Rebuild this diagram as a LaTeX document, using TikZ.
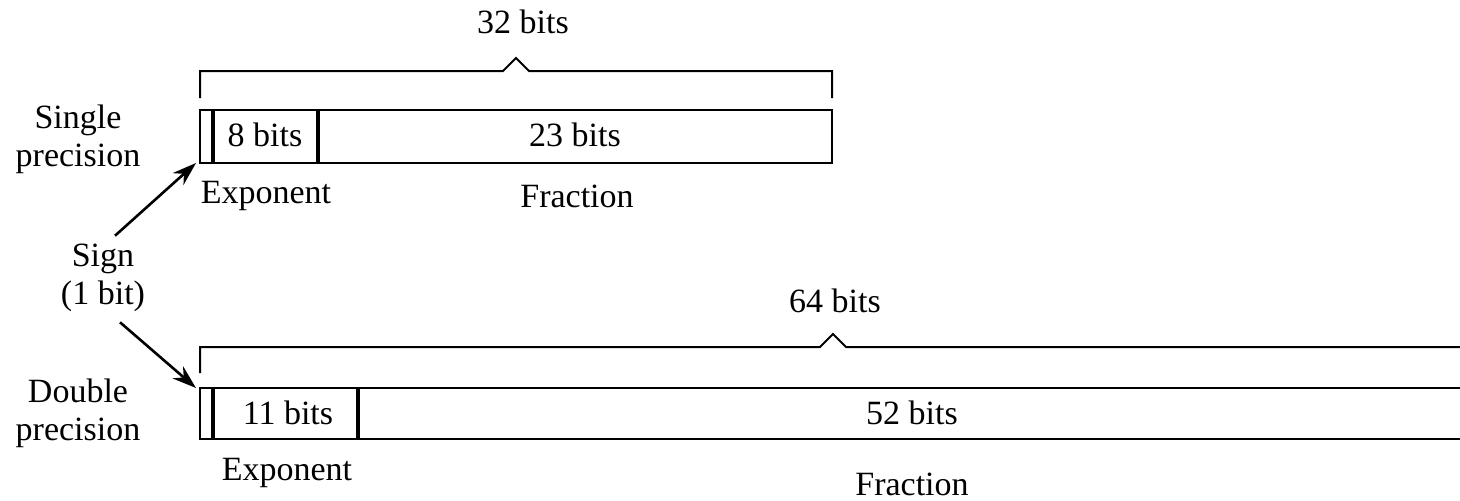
\documentclass[tikz,border=0pt]{standalone}
\usepackage{fontspec}
\setmainfont{Liberation Serif}
\usetikzlibrary{arrows.meta,positioning,calc}

\begin{document}
\begin{tikzpicture}[x=0.5pt, y=-0.5pt,
    lbl/.style={font=\fontsize{17}{19}\selectfont, inner sep=0pt, align=center},
    field/.style={line width=1pt},
    divider/.style={line width=1.6pt},
    brace/.style={line width=1pt, line join=miter},
    pointer/.style={line width=1.3pt, -{Stealth[length=12pt, width=8pt]}}]
    \useasboundingbox (0,0) rectangle (1460,500);

    % Single precision word
    \draw[field] (200,110) rectangle (832,163);
    \draw[divider] (213,110) -- (213,163);
    \draw[divider] (318,110) -- (318,163);
    \coordinate (single) at (196,163);
    \draw[brace] (200,98) -- (200,71) -- (503,71) -- (516,58) -- (529,71) -- (832,71) -- (832,98);
    \node[lbl] (bits32) at (523,22) {32 bits};
    \node[lbl] (exp8) at (265,135) {8 bits};
    \node[lbl] (frac23) at (575,135) {23 bits};
    \node[lbl] (exps) at (266,196) {Exponent};
    \node[lbl] (fracs) at (577,196) {Fraction};
    \node[lbl] (singlelbl) at (78,139) {Single\\precision};

    % Double precision word
    \draw[field] (1462,388) -- (200,388) -- (200,439) -- (1462,439);
    \draw[divider] (213,388) -- (213,439);
    \draw[divider] (358,388) -- (358,439);
    \coordinate (double) at (196,388);
    \draw[brace] (200,373) -- (200,347) -- (820,347) -- (833,334) -- (846,347) -- (1462,347);
    \node[lbl] (bits64) at (835,301) {64 bits};
    \node[lbl] (exp11) at (288,413) {11 bits};
    \node[lbl] (frac52) at (912,413) {52 bits};
    \node[lbl] (expd) at (287,473) {Exponent};
    \node[lbl] (fracd) at (912,484) {Fraction};
    \node[lbl] (doublelbl) at (78,413) {Double\\precision};

    % Sign bit
    \node[lbl] (sign) at (103,278) {Sign\\(1 bit)};
    \draw[pointer] ($(sign.north)+(12,-8)$) -- (single);
    \draw[pointer] ($(sign.south)+(17,10)$) -- (double);
\end{tikzpicture}
\end{document}
